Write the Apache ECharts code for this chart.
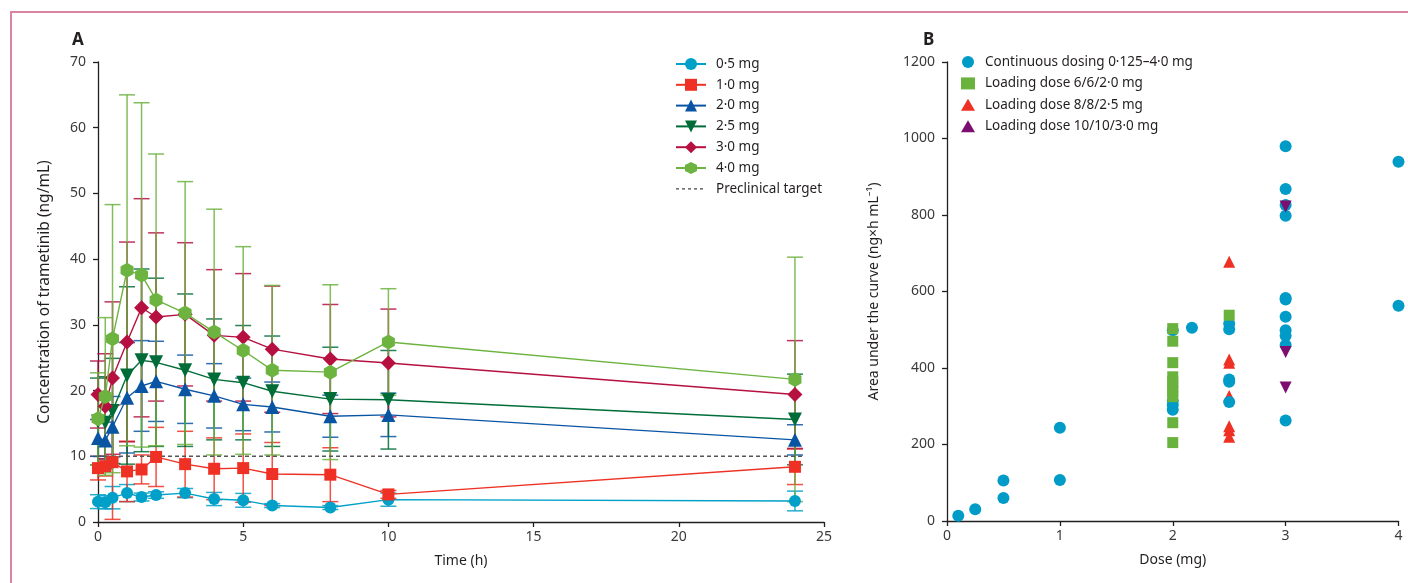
<!DOCTYPE html>
<html>
<head>
<meta charset="utf-8">
<script src="https://cdn.jsdelivr.net/npm/echarts@6/dist/echarts.min.js"></script>
<style>
  html, body { margin: 0; padding: 0; background: #fff; }
  #frame { position: absolute; left: 10px; top: 11px; width: 1420px; height: 600px;
           border-left: 2px solid #d9859f; border-top: 2px solid #d9859f; }
  #chart { position: absolute; left: 0; top: 0; width: 1408px; height: 583px; }
</style>
</head>
<body>
<div id="frame"></div>
<div id="chart"></div>
<script>
// ---------- Panel A: concentration-time ----------
const times = [0, 0.25, 0.5, 1, 1.5, 2, 3, 4, 5, 6, 8, 10, 24];
const doseNames = ['0·5 mg', '1·0 mg', '2·0 mg', '2·5 mg', '3·0 mg', '4·0 mg'];

const mean05 = [3.1, 3.0, 3.7, 4.4, 3.8, 4.1, 4.4, 3.5, 3.3, 2.5, 2.2, 3.4, 3.2];
const sd05   = [1.05, 1.0, 1.7, 1.3, 0.6, 0.5, 0.7, 1.0, 1.05, 0.3, 0.3, 1.0, 1.5];

const mean10 = [8.2, 8.5, 9.1, 7.7, 8.0, 9.9, 8.8, 8.1, 8.2, 7.3, 7.2, 4.2, 8.4];
const sd10   = [1.8, 1.5, 8.7, 4.6, 2.2, 4.5, 5.0, 4.7, 5.2, 4.8, 4.1, 0.6, 2.7];

const mean20 = [12.8, 12.4, 14.5, 18.9, 20.7, 21.4, 20.2, 19.2, 17.9, 17.5, 16.1, 16.3, 12.5];
const sd20   = [2.8, 2.8, 4.6, 8.4, 6.9, 6.1, 5.2, 4.9, 4.0, 3.8, 3.2, 3.3, 2.3];

const mean25 = [15.3, 15.1, 16.9, 22.3, 24.6, 24.3, 23.1, 21.7, 21.2, 19.9, 18.7, 18.6, 15.6];
const sd25   = [6.6, 7.0, 8.0, 13.5, 13.9, 12.8, 11.6, 9.2, 8.7, 8.4, 7.9, 7.5, 6.9];

const mean30 = [19.4, 17.6, 21.9, 27.4, 32.6, 31.2, 31.6, 28.4, 28.1, 26.3, 24.8, 24.2, 19.4];
const sd30   = [5.1, 8.0, 11.6, 15.2, 16.6, 12.8, 10.9, 10.0, 9.7, 9.6, 8.3, 8.2, 8.2];

const mean40 = [15.7, 19.1, 27.9, 38.3, 37.6, 33.8, 31.8, 28.9, 26.1, 23.1, 22.8, 27.4, 21.7];
const sd40   = [7.0, 12.0, 20.4, 26.7, 26.2, 22.2, 20.0, 18.7, 15.8, 12.9, 13.3, 8.1, 18.6];

const targetName = 'Preclinical target';
const targetLine = [[0, 10], [24.3, 10]];

const xTicksA = [0, 5, 10, 15, 20, 25];
const yTicksA = [0, 10, 20, 30, 40, 50, 60, 70];

// ---------- Panel B: AUC vs dose ----------
const groupNames = ['Continuous dosing 0·125–4·0 mg', 'Loading dose 6/6/2·0 mg', 'Loading dose 8/8/2·5 mg', 'Loading dose 10/10/3·0 mg'];

const contDose = [0.1, 0.25, 0.5, 0.5, 1, 1, 2, 2, 2, 2, 2.17, 2.5, 2.5, 2.5, 2.5, 2.5, 3, 3, 3, 3, 3, 3, 3, 3, 3, 3, 3, 4, 4];
const contAuc  = [14, 31, 106, 60, 244, 107, 499, 314, 303, 291, 505, 516, 501, 370, 364, 311, 980, 868, 826, 798, 583, 579, 534, 499, 484, 460, 263, 939, 563];

const load6Dose = [2, 2, 2, 2, 2, 2, 2, 2, 2, 2, 2.5];
const load6Auc  = [503, 470, 414, 377, 364, 351, 338, 325, 257, 205, 538];

const load8Dose = [2.5, 2.5, 2.5, 2.5, 2.5, 2.5, 2.5];
const load8Auc  = [678, 422, 414, 327, 248, 237, 220];

const load10Dose = [3, 3, 3];
const load10Auc  = [822, 442, 349];

// ---------- styling ----------
const FONT = 'Noto Sans';
const colorsA = ['#00a0c8', '#ee3124', '#0a55a3', '#006d38', '#b5103f', '#6cb33f'];
const symbolsA = ['circle', 'rect', 'triangle', 'triangle', 'diamond',
  'path://M0,-10 L8.66,-5 L8.66,5 L0,10 L-8.66,5 L-8.66,-5 Z'];
const symbolSizesA = [12, 12, 14, 14, 15, 15];
const rotA = [0, 0, 0, 180, 0, 0];
const meansA = [mean05, mean10, mean20, mean25, mean30, mean40];
const sdsA = [sd05, sd10, sd20, sd25, sd30, sd40];

const axisColor = '#231f20';
const labelColor = '#3a3a3a';

function errRender(color) {
  return function (params, api) {
    const x = api.value(0), lo = api.value(1), hi = api.value(2);
    const pTop = api.coord([x, hi]);
    const pBot = api.coord([x, lo]);
    const w = 8;
    const st = { stroke: color, lineWidth: 1.5, opacity: 0.85 };
    return {
      type: 'group',
      children: [
        { type: 'line', shape: { x1: pTop[0], y1: pTop[1], x2: pBot[0], y2: pBot[1] }, style: st },
        { type: 'line', shape: { x1: pTop[0] - w, y1: pTop[1], x2: pTop[0] + w, y2: pTop[1] }, style: st },
        { type: 'line', shape: { x1: pBot[0] - w, y1: pBot[1], x2: pBot[0] + w, y2: pBot[1] }, style: st }
      ]
    };
  };
}

const seriesA = [];
meansA.forEach((m, i) => {
  seriesA.push({
    type: 'custom', xAxisIndex: 0, yAxisIndex: 0, z: 1,
    renderItem: errRender(colorsA[i]),
    encode: { x: 0, y: [1, 2] },
    data: times.map((t, k) => [t, Math.max(0, m[k] - sdsA[i][k]), m[k] + sdsA[i][k]]),
    silent: true, clip: false
  });
});
seriesA.push({
  name: targetName, type: 'line', xAxisIndex: 0, yAxisIndex: 0, z: 2,
  data: targetLine, symbol: 'none',
  lineStyle: { color: '#555', width: 1.5, type: [4, 3] },
  itemStyle: { color: '#555' }, silent: true
});
meansA.forEach((m, i) => {
  seriesA.push({
    name: doseNames[i], type: 'line', xAxisIndex: 0, yAxisIndex: 0, z: 3 + i,
    data: times.map((t, k) => [t, m[k]]),
    symbol: symbolsA[i], symbolSize: symbolSizesA[i], symbolRotate: rotA[i],
    symbolKeepAspect: true, showAllSymbol: true, clip: false,
    lineStyle: { color: colorsA[i], width: 1.4 },
    itemStyle: { color: colorsA[i] }
  });
});

const seriesB = [
  { name: groupNames[2], type: 'scatter', xAxisIndex: 1, yAxisIndex: 1, symbol: 'triangle', symbolSize: 12,
    itemStyle: { color: '#ee3124', opacity: 1 }, data: load8Dose.map((d, k) => [d, load8Auc[k]]), clip: false },
  { name: groupNames[0], type: 'scatter', xAxisIndex: 1, yAxisIndex: 1, symbol: 'circle', symbolSize: 12,
    itemStyle: { color: '#009bc7', opacity: 1 }, data: contDose.map((d, k) => [d, contAuc[k]]), clip: false },
  { name: groupNames[1], type: 'scatter', xAxisIndex: 1, yAxisIndex: 1, symbol: 'rect', symbolSize: 11,
    itemStyle: { color: '#6ab23e', opacity: 1 }, data: load6Dose.map((d, k) => [d, load6Auc[k]]), clip: false },
  { name: groupNames[3], type: 'scatter', xAxisIndex: 1, yAxisIndex: 1, symbol: 'triangle', symbolSize: 12, symbolRotate: 180,
    itemStyle: { color: '#7b0e6e', opacity: 1 }, data: load10Dose.map((d, k) => [d, load10Auc[k]]), clip: false }
];

const plainFmt = v => String(v);

function valueAxis(extra, nameSize, labelMargin) {
  return Object.assign({
    type: 'value',
    axisLine: { show: true, lineStyle: { color: axisColor, width: 1.3 } },
    axisTick: { show: true, length: 5, lineStyle: { color: axisColor, width: 1.3 } },
    axisLabel: { color: labelColor, fontFamily: FONT, fontSize: 14, margin: labelMargin, formatter: plainFmt },
    splitLine: { show: false },
    nameLocation: 'middle',
    nameTextStyle: { color: '#231f20', fontFamily: FONT, fontSize: nameSize }
  }, extra);
}

const chart = echarts.init(document.getElementById('chart'), null, { renderer: 'canvas' });
chart.setOption({
  animation: false,
  backgroundColor: 'transparent',
  textStyle: { fontFamily: FONT },
  grid: [
    { left: 98, top: 62, width: 726, height: 460 },
    { left: 947, top: 62, width: 451.5, height: 459 }
  ],
  xAxis: [
    valueAxis({ gridIndex: 0, min: xTicksA[0], max: xTicksA[xTicksA.length - 1], interval: 5,
      name: 'Time (h)', nameGap: 32 }, 14, 8),
    valueAxis({ gridIndex: 1, min: 0, max: 4, interval: 1,
      name: 'Dose (mg)', nameGap: 32 }, 14, 8)
  ],
  yAxis: [
    valueAxis({ gridIndex: 0, min: yTicksA[0], max: yTicksA[yTicksA.length - 1], interval: 10,
      name: 'Concentration of trametinib (ng/mL)', nameGap: 45 }, 15.5, 12),
    valueAxis({ gridIndex: 1, min: 0, max: 1200, interval: 200,
      name: 'Area under the curve (ng×h mL⁻¹)', nameGap: 66 }, 14, 12)
  ],
  legend: [
    { orient: 'vertical', left: 670, top: 52, itemWidth: 30, itemHeight: 15, itemGap: 6.8,
      data: doseNames.map(n => ({ name: n })).concat([{ name: targetName,
        itemStyle: { color: 'rgba(0,0,0,0)', borderColor: 'rgba(0,0,0,0)', borderWidth: 0, opacity: 0 },
        lineStyle: { color: '#444', width: 1.3, type: [3, 3] } }]),
      textStyle: { color: '#231f20', fontFamily: FONT, fontSize: 13.5, padding: [0, 0, 0, 5] } },
    { orient: 'vertical', left: 956, top: 50, itemWidth: 14, itemHeight: 12, itemGap: 7.4,
      data: groupNames,
      textStyle: { color: '#231f20', fontFamily: FONT, fontSize: 13.5, padding: [0, 0, 0, 5] } }
  ],
  graphic: [
    { type: 'text', left: 72, top: 32, style: { text: 'A', fontFamily: FONT, fontWeight: 'bold', fontSize: 17, fill: '#231f20' } },
    { type: 'text', left: 923, top: 32, style: { text: 'B', fontFamily: FONT, fontWeight: 'bold', fontSize: 17, fill: '#231f20' } }
  ],
  series: seriesA.concat(seriesB)
});
</script>
</body>
</html>
